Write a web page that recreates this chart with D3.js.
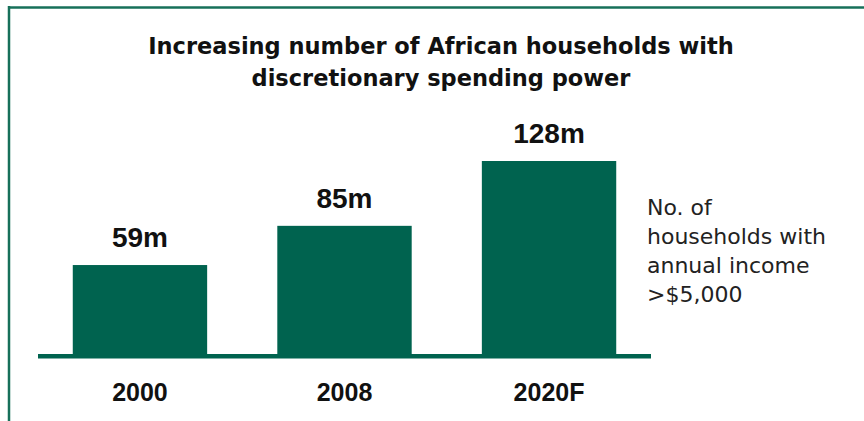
<!DOCTYPE html>
<html>
<head>
<meta charset="utf-8">
<script src="https://cdn.jsdelivr.net/npm/d3@7"></script>
<style>
  body { margin: 0; background: #fff; }
  svg { display: block; }
  text { font-family: "Liberation Sans", Arial, sans-serif; }
  .title, .note { font-family: "DejaVu Sans", sans-serif; }
</style>
</head>
<body>
<svg id="chart" width="864" height="421"></svg>
<script>
const years = ["2000", "2008", "2020F"];
const households = [59, 85, 128];
const valueLabels = ["59m", "85m", "128m"];
const titleLines = ["Increasing number of African households with", "discretionary spending power"];
const noteLines = ["No. of", "households with", "annual income", ">$5,000"];

const green = "#00634f";
const svg = d3.select("#chart");

// frame on top and left
svg.append("line").attr("x1", 9).attr("x2", 864).attr("y1", 7.5).attr("y2", 7.5)
  .attr("stroke", "#17705a").attr("stroke-width", 2.5);
svg.append("line").attr("x1", 9).attr("x2", 9).attr("y1", 6).attr("y2", 421)
  .attr("stroke", "#17705a").attr("stroke-width", 2.5);

const x = d3.scaleBand().domain(years).range([38, 651]).paddingInner(0.343).paddingOuter(0.17);
const y = d3.scaleLinear().domain([0, 128]).range([354, 161]);

svg.selectAll("text.title")
  .data(titleLines)
  .join("text")
  .attr("class", "title")
  .attr("x", 441)
  .attr("y", (d, i) => 54 + i * 32)
  .attr("text-anchor", "middle")
  .attr("font-size", 22.5)
  .attr("font-weight", "bold")
  .attr("fill", "#111")
  .text((d) => d);

svg.selectAll("rect.bar")
  .data(households)
  .join("rect")
  .attr("class", "bar")
  .attr("x", (d, i) => x(years[i]))
  .attr("y", (d) => y(d))
  .attr("width", x.bandwidth())
  .attr("height", (d) => y(0) - y(d))
  .attr("fill", green);

// baseline
svg.append("rect").attr("x", 38).attr("y", 354).attr("width", 613).attr("height", 4.5).attr("fill", green);

svg.selectAll("text.value")
  .data(households)
  .join("text")
  .attr("class", "value")
  .attr("x", (d, i) => x(years[i]) + x.bandwidth() / 2)
  .attr("y", (d) => y(d) - 18)
  .attr("text-anchor", "middle")
  .attr("font-size", 28)
  .attr("font-weight", "bold")
  .attr("fill", "#111")
  .text((d, i) => valueLabels[i]);

svg.selectAll("text.year")
  .data(years)
  .join("text")
  .attr("class", "year")
  .attr("x", (d) => x(d) + x.bandwidth() / 2)
  .attr("y", 401)
  .attr("text-anchor", "middle")
  .attr("font-size", 25)
  .attr("font-weight", "bold")
  .attr("fill", "#111")
  .text((d) => d);

svg.selectAll("text.note")
  .data(noteLines)
  .join("text")
  .attr("class", "note")
  .attr("x", 647)
  .attr("y", (d, i) => 215 + i * 29)
  .attr("font-size", 22)
  .attr("fill", "#222")
  .text((d) => d);
</script>
</body>
</html>
